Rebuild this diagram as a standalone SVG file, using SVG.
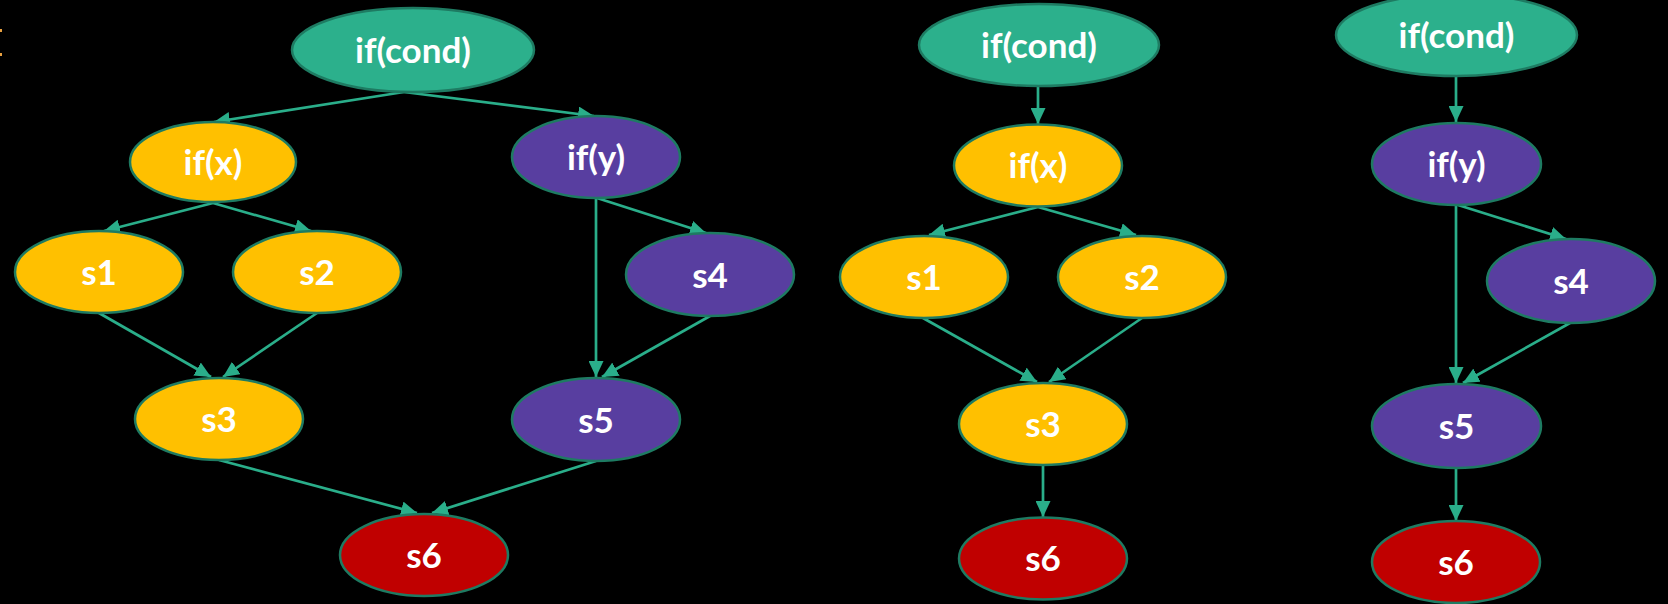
<svg xmlns="http://www.w3.org/2000/svg" width="1668" height="604" viewBox="0 0 1668 604">
  <defs>
    <marker id="arrow" markerUnits="userSpaceOnUse" markerWidth="16" markerHeight="15" refX="16" refY="7.5" orient="auto">
      <path d="M0,0 L16,7.5 L0,15 Z" fill="#2AAE8A"/>
    </marker>
    <style>
      .node ellipse { stroke: #1E7B62; stroke-width: 2.5; }
      .cond ellipse { fill: #2CB08C; }
      .yel ellipse { fill: #FFC000; }
      .pur ellipse { fill: #583EA0; }
      .red ellipse { fill: #C00000; }
      .node text { fill: #FFFFFF; font-family: Lato, "Open Sans", "Liberation Sans", sans-serif; font-weight: bold; font-size: 35px; text-anchor: middle; }
      #edges line { stroke: #2AAE8A; stroke-width: 2.7; marker-end: url(#arrow); }
    </style>
  </defs>

  <rect x="0" y="0" width="1668" height="604" fill="#000000"/>
  <!-- small orange marks at the left edge -->
  <rect x="0" y="29" width="2" height="3" fill="#E8A040"/>
  <rect x="0" y="53" width="2" height="3" fill="#E8A040"/>

  <!-- connectors -->
  <g id="edges">
    <!-- first graph -->
    <line x1="404" y1="92" x2="214" y2="122"/>
    <line x1="404" y1="92" x2="594" y2="116"/>
    <line x1="213" y1="203" x2="104" y2="231"/>
    <line x1="213" y1="203" x2="311" y2="231"/>
    <line x1="99" y1="313" x2="211" y2="377"/>
    <line x1="317" y1="313" x2="223" y2="377"/>
    <line x1="596" y1="198" x2="596" y2="377"/>
    <line x1="597" y1="198" x2="706" y2="233"/>
    <line x1="710" y1="316" x2="602" y2="377"/>
    <line x1="219" y1="460" x2="417" y2="513"/>
    <line x1="596" y1="461" x2="432" y2="513"/>
    <!-- second graph -->
    <line x1="1038" y1="86" x2="1038" y2="124"/>
    <line x1="1038" y1="207" x2="929" y2="235"/>
    <line x1="1038" y1="207" x2="1136" y2="235"/>
    <line x1="923" y1="318" x2="1037" y2="382"/>
    <line x1="1142" y1="318" x2="1049" y2="382"/>
    <line x1="1043" y1="465" x2="1043" y2="517"/>
    <!-- third graph -->
    <line x1="1456" y1="76" x2="1456" y2="122"/>
    <line x1="1458" y1="205" x2="1566" y2="239"/>
    <line x1="1456" y1="205" x2="1456" y2="383"/>
    <line x1="1570" y1="323" x2="1463" y2="383"/>
    <line x1="1456" y1="468" x2="1456" y2="521"/>
  </g>

  <!-- first graph -->
  <g id="g1-ifcond" class="node cond"><ellipse cx="413" cy="50" rx="121" ry="42"/><text x="413" y="63">if(cond)</text></g>
  <g id="g1-ifx" class="node yel"><ellipse cx="213" cy="162" rx="83" ry="40"/><text x="213" y="175">if(x)</text></g>
  <g id="g1-ify" class="node pur"><ellipse cx="596" cy="157" rx="84" ry="41"/><text x="596" y="170">if(y)</text></g>
  <g id="g1-s1" class="node yel"><ellipse cx="99" cy="272" rx="84" ry="41"/><text x="99" y="285">s1</text></g>
  <g id="g1-s2" class="node yel"><ellipse cx="317" cy="272" rx="84" ry="41"/><text x="317" y="285">s2</text></g>
  <g id="g1-s4" class="node pur"><ellipse cx="710" cy="274.5" rx="84" ry="41.5"/><text x="710" y="288">s4</text></g>
  <g id="g1-s3" class="node yel"><ellipse cx="219" cy="419" rx="84" ry="41"/><text x="219" y="432">s3</text></g>
  <g id="g1-s5" class="node pur"><ellipse cx="596" cy="419.5" rx="84" ry="41.5"/><text x="596" y="433">s5</text></g>
  <g id="g1-s6" class="node red"><ellipse cx="424" cy="555" rx="84" ry="41"/><text x="424" y="568">s6</text></g>

  <!-- second graph -->
  <g id="g2-ifcond" class="node cond"><ellipse cx="1039" cy="45" rx="120" ry="41"/><text x="1039" y="58">if(cond)</text></g>
  <g id="g2-ifx" class="node yel"><ellipse cx="1038" cy="165.5" rx="84" ry="41"/><text x="1038" y="178">if(x)</text></g>
  <g id="g2-s1" class="node yel"><ellipse cx="924" cy="277" rx="84" ry="41"/><text x="924" y="290">s1</text></g>
  <g id="g2-s2" class="node yel"><ellipse cx="1142" cy="277" rx="84" ry="41"/><text x="1142" y="290">s2</text></g>
  <g id="g2-s3" class="node yel"><ellipse cx="1043" cy="424" rx="84" ry="41"/><text x="1043" y="437">s3</text></g>
  <g id="g2-s6" class="node red"><ellipse cx="1043" cy="558.5" rx="84" ry="41"/><text x="1043" y="571">s6</text></g>

  <!-- third graph -->
  <g id="g3-ifcond" class="node cond"><ellipse cx="1456.5" cy="35" rx="120.5" ry="41"/><text x="1456.5" y="48">if(cond)</text></g>
  <g id="g3-ify" class="node pur"><ellipse cx="1456.5" cy="164" rx="84.5" ry="41"/><text x="1456.5" y="177">if(y)</text></g>
  <g id="g3-s4" class="node pur"><ellipse cx="1571" cy="281" rx="84" ry="42"/><text x="1571" y="294">s4</text></g>
  <g id="g3-s5" class="node pur"><ellipse cx="1456.5" cy="426" rx="84.5" ry="42"/><text x="1456.5" y="439">s5</text></g>
  <g id="g3-s6" class="node red"><ellipse cx="1456" cy="562" rx="84" ry="41"/><text x="1456" y="575">s6</text></g>
</svg>
